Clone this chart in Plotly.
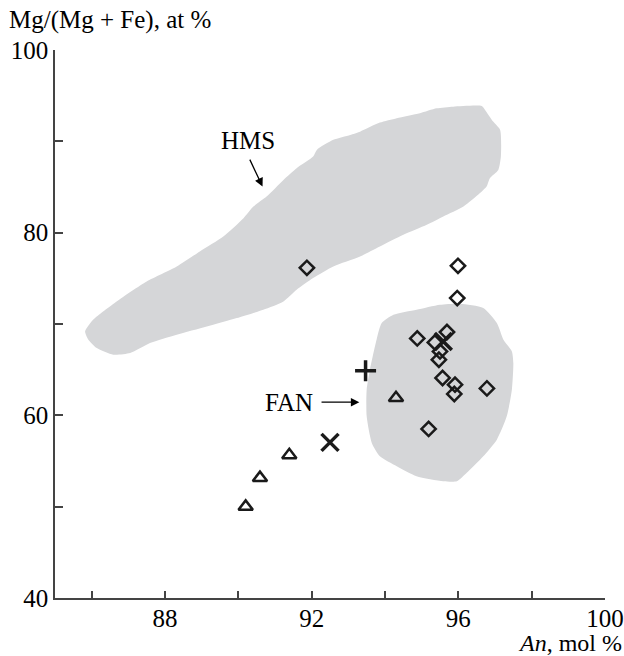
import plotly.graph_objects as go

# ---- data ----
# HMS field outline (An mol %, Mg# at %)
hms_x = [85.82, 86.04, 86.68, 87.50, 88.32, 88.95, 89.59, 90.14, 90.41, 90.77, 91.23, 91.59,
         92.04, 92.14, 92.59, 93.05, 93.32, 93.86, 94.32, 94.95, 95.41, 95.86, 96.64, 96.73,
         96.95, 97.14, 97.16, 97.09, 96.86, 96.77, 96.59, 96.14, 95.59, 95.14, 94.50, 93.86,
         93.32, 92.59, 92.04, 91.59, 91.23, 90.68, 89.96, 89.14, 88.32, 87.59, 87.05, 86.59,
         86.14, 85.91]
hms_y = [69.19, 70.47, 72.47, 74.66, 76.30, 77.94, 79.58, 81.59, 82.86, 83.95, 85.78, 87.06,
         88.33, 89.06, 90.16, 90.70, 91.06, 92.05, 92.53, 93.08, 93.62, 93.80, 93.87, 93.44,
         92.16, 91.25, 88.33, 86.87, 85.97, 85.05, 84.33, 82.86, 81.77, 80.86, 79.76, 78.48,
         77.39, 76.30, 75.03, 73.75, 72.47, 71.56, 70.65, 69.73, 68.83, 67.92, 66.82, 66.64,
         67.37, 68.28]

# FAN field outline
fan_x = [94.23, 94.86, 95.50, 96.05, 96.68, 97.05, 97.23, 97.46, 97.50, 97.46, 97.32, 97.05,
         96.68, 96.23, 95.96, 95.59, 94.86, 94.32, 93.86, 93.64, 93.50, 93.50, 93.59, 93.77,
         93.91]
fan_y = [71.01, 71.56, 72.11, 72.22, 71.75, 70.10, 68.28, 67.00, 65.73, 62.81, 59.89, 57.34,
         55.51, 53.70, 52.78, 52.78, 53.33, 54.42, 55.51, 56.98, 59.89, 62.81, 65.00, 68.28,
         70.10]

# samples
diamond_x = [91.87, 95.99, 95.97, 94.88, 95.69, 95.36, 95.50, 95.47, 95.57, 95.91, 95.89, 96.78, 95.19]
diamond_y = [76.15, 76.37, 72.84, 68.42, 69.12, 67.98, 67.00, 66.09, 64.09, 63.36, 62.34, 62.95, 58.51]

cross_x = [95.59, 92.50]
cross_y = [68.09, 57.04]

plus_x = [93.47]
plus_y = [64.89]

triangle_x = [91.39, 90.59, 90.20, 94.30]
triangle_y = [55.65, 53.15, 50.00, 61.90]

x_tickvals = [86, 88, 90, 92, 94, 96, 98, 100]
x_ticktext = ["", "88", "", "92", "", "96", "", "100"]
y_tickvals = [40, 50, 60, 70, 80, 90, 100]
y_ticktext = ["40", "", "60", "", "80", "", "100"]

FONT = "Liberation Serif"
FS = 25
FILL = "#d5d6d8"
INK = "#1a1a1a"

fig = go.Figure()

fig.add_trace(go.Scatter(x=hms_x + hms_x[:1], y=hms_y + hms_y[:1], mode="lines",
                         line=dict(width=0, shape="spline", smoothing=0.6),
                         fill="toself", fillcolor=FILL, hoverinfo="skip", showlegend=False))
fig.add_trace(go.Scatter(x=fan_x + fan_x[:1], y=fan_y + fan_y[:1], mode="lines",
                         line=dict(width=0, shape="spline", smoothing=0.6),
                         fill="toself", fillcolor=FILL, hoverinfo="skip", showlegend=False))

fig.add_trace(go.Scatter(x=diamond_x, y=diamond_y, mode="markers", showlegend=False,
                         marker=dict(symbol="diamond-open", size=11, color=INK,
                                     line=dict(width=2.5, color=INK))))
fig.add_trace(go.Scatter(x=triangle_x, y=triangle_y, mode="markers", showlegend=False,
                         marker=dict(symbol="triangle-up-open", size=12.5, color=INK,
                                     line=dict(width=2.5, color=INK))))
fig.add_trace(go.Scatter(x=cross_x, y=cross_y, mode="markers", showlegend=False,
                         marker=dict(symbol="x-thin-open", size=17, color=INK,
                                     line=dict(width=3.5, color=INK))))
fig.add_trace(go.Scatter(x=plus_x, y=plus_y, mode="markers", showlegend=False,
                         marker=dict(symbol="cross-thin-open", size=15, color=INK,
                                     line=dict(width=3.5, color=INK))))

axis_common = dict(showline=True, linecolor="#444444", linewidth=1.5, ticks="inside",
                   tickcolor="#444444", tickwidth=1.5, showgrid=False, zeroline=False,
                   automargin=False,
                   tickfont=dict(family=FONT, size=FS, color="black"))

fig.update_xaxes(range=[85, 100], tickmode="array", tickvals=x_tickvals, ticktext=x_ticktext,
                 ticklen=7, ticklabelstandoff=-3, **axis_common)
fig.update_yaxes(range=[40, 100], tickmode="array", tickvals=y_tickvals, ticktext=y_ticktext,
                 ticklen=8, **axis_common)

annotations = [
    dict(text="Mg/(Mg + Fe), at %", xref="paper", yref="paper", x=0, y=1,
         xanchor="left", yanchor="middle", xshift=-48, yshift=30, showarrow=False,
         font=dict(family=FONT, size=FS, color="black")),
    dict(text="<i>An</i>, mol %", xref="paper", yref="paper", x=1, y=0,
         xanchor="right", yanchor="middle", xshift=19, yshift=-44.5, showarrow=False,
         font=dict(family=FONT, size=24, color="black")),
    dict(text="HMS", x=90.25, y=90.05, showarrow=False,
         font=dict(family=FONT, size=FS, color="black")),
    dict(text="", x=90.66, y=85.05, ax=-13.4, ay=-28.4, showarrow=True,
         arrowhead=2, arrowsize=1.3, arrowwidth=1.3, arrowcolor="black"),
    dict(text="FAN", x=91.38, y=61.44, showarrow=False,
         font=dict(family=FONT, size=FS, color="black")),
    dict(text="", x=93.30, y=61.44, ax=-39.3, ay=0, showarrow=True,
         arrowhead=2, arrowsize=1.3, arrowwidth=1.3, arrowcolor="black"),
]

fig.update_layout(width=624, height=656, margin=dict(l=55, r=19, t=50, b=58),
                  paper_bgcolor="white", plot_bgcolor="white", annotations=annotations,
                  font=dict(family=FONT, size=FS, color="black"))

fig.write_html("out.html")
